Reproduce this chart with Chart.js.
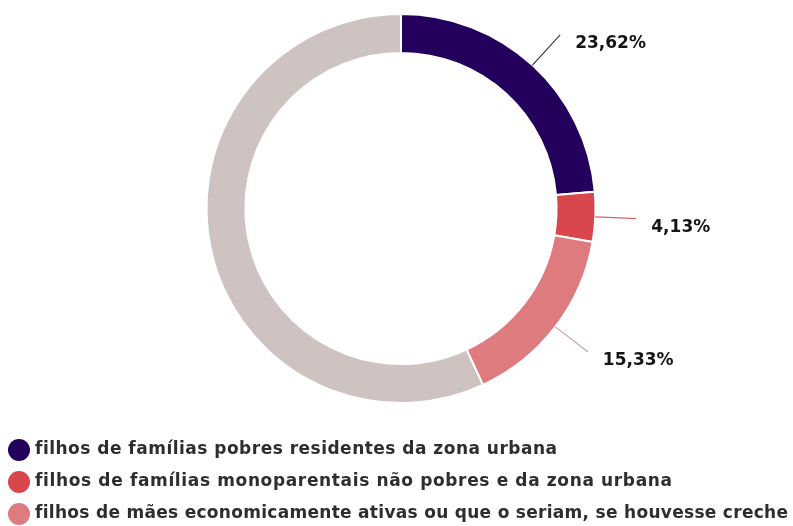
<!DOCTYPE html>
<html><head><meta charset="utf-8">
<script src="https://cdn.jsdelivr.net/npm/chart.js@4.4.1/dist/chart.umd.min.js"></script>
<style>html,body{margin:0;padding:0;background:#fff;}#wrap{width:793px;height:526px;position:relative;}</style>
</head><body><div id="wrap"><canvas id="c" width="793" height="526"></canvas></div>
<script>
const categories = [
  "filhos de famílias pobres residentes da zona urbana",
  "filhos de famílias monoparentais não pobres e da zona urbana",
  "filhos de mães economicamente ativas ou que o seriam, se houvesse creche",
  "demais"
];
const values = [23.62, 4.13, 15.33, 56.92];
const valueLabels = ["23,62%", "4,13%", "15,33%", null];
const colors = ["#22005c", "#d9464b", "#de7b7f", "#cfc3c2"];
const lineColors = ["#3c3c3c", "#d8636a", "#c4a4a6"];
const legendCount = 3;
const legendRight = [557, 672, 788]; // layout: right edge of each legend text

function spacedText(ctx, text, x, y, spacing) {
  let cx = x;
  for (const ch of text) {
    ctx.fillText(ch, cx, y);
    cx += ctx.measureText(ch).width + spacing;
  }
}
function fitSpacing(ctx, text, width) {
  let w = 0, n = 0;
  for (const ch of text) { w += ctx.measureText(ch).width; n++; }
  return (width - w) / (n - 1);
}

const annot = {
  id: 'annot',
  afterDatasetsDraw(chart) {
    const ctx = chart.ctx;
    const meta = chart.getDatasetMeta(0);
    ctx.save();
    meta.data.forEach((arc, i) => {
      if (!valueLabels[i]) return;
      const p = arc.getProps(['x','y','startAngle','endAngle','outerRadius'], true);
      const a = (p.startAngle + p.endAngle) / 2;
      const r0 = p.outerRadius, r1 = r0 + 41;
      const x0 = p.x + Math.cos(a) * r0, y0 = p.y + Math.sin(a) * r0;
      const x1 = p.x + Math.cos(a) * r1, y1 = p.y + Math.sin(a) * r1;
      ctx.strokeStyle = lineColors[i];
      ctx.lineWidth = 1.2;
      ctx.beginPath(); ctx.moveTo(x0, y0); ctx.lineTo(x1, y1); ctx.stroke();
      ctx.fillStyle = '#151515';
      ctx.font = 'bold 17px "DejaVu Sans"';
      ctx.textAlign = 'left'; ctx.textBaseline = 'middle';
      spacedText(ctx, valueLabels[i], x1 + 15, y1 + 9, 0);
    });
    // legend
    for (let i = 0; i < legendCount; i++) {
      const y = 450 + i * 32;
      ctx.fillStyle = colors[i];
      ctx.beginPath(); ctx.arc(19, y, 11, 0, Math.PI * 2); ctx.fill();
      ctx.fillStyle = '#2e2e2e';
      ctx.font = 'bold 17px "DejaVu Sans"';
      ctx.textAlign = 'left'; ctx.textBaseline = 'middle';
      const sp = fitSpacing(ctx, categories[i], legendRight[i] - 35);
      spacedText(ctx, categories[i], 35, y, sp);
    }
    ctx.restore();
  }
};

new Chart(document.getElementById('c'), {
  type: 'doughnut',
  data: {
    labels: categories,
    datasets: [{
      data: values,
      backgroundColor: colors,
      borderColor: '#ffffff',
      borderWidth: 2,
      hoverOffset: 0
    }]
  },
  options: {
    responsive: false,
    animation: false,
    cutout: '80%',
    layout: { padding: { top: 13, bottom: 122, left: 9, right: 0 } },
    plugins: { legend: { display: false }, tooltip: { enabled: false } }
  },
  plugins: [annot]
});
</script>
</body></html>
